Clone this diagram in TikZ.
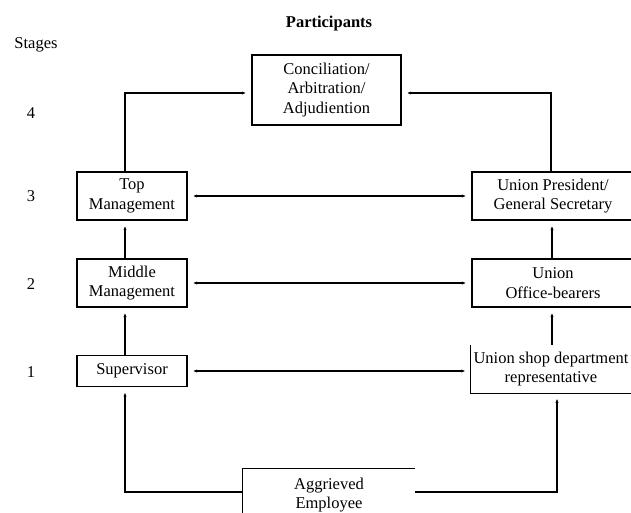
\documentclass[tikz,border=0pt]{standalone}
\usepackage{fontspec}
\setmainfont{Liberation Serif}
\usetikzlibrary{arrows.meta}
\begin{document}
\begin{tikzpicture}[x=1pt,y=-1pt,
  every node/.style={font=\fontsize{16.5}{19.5}\selectfont, inner sep=0pt, align=center},
  box/.style={draw, line width=1.1pt},
  link/.style={line width=1.1pt, -{Stealth[length=3.5pt,width=3pt]}, shorten >=6pt},
  both/.style={line width=1.1pt, {Stealth[length=3.5pt,width=3pt]}-{Stealth[length=3.5pt,width=3pt]}, shorten >=6pt, shorten <=6pt},
  plain/.style={line width=1.1pt}]
\useasboundingbox (0,0) rectangle (631,512);
\clip (0,0) rectangle (631,512);
\fill[white] (0,0) rectangle (631,512);

% headings and stage numbers
\node[font=\bfseries\fontsize{16.5}{19.5}\selectfont] (head) at (329,24) {Participants};
\node (stages) at (36,45) {Stages};
\node (s4) at (31,113) {4};
\node (s3) at (31,196) {3};
\node (s2) at (31,284) {2};
\node (s1) at (31,372) {1};

% participant boxes
\node[box, minimum width=149pt, minimum height=70pt] (conc) at (326.5,90) {Conciliation/\\Arbitration/\\Adjudiention};
\node[box, minimum width=110pt, minimum height=48pt] (top) at (132,196) {Top\\Management};
\node[box, minimum width=110pt, minimum height=48pt] (mid) at (132,283) {Middle\\Management};
\node[box, minimum width=110pt, minimum height=31pt] (sup) at (132,371) {Supervisor};
\node[box, minimum width=162pt, minimum height=48pt] (pres) at (553,196) {Union President/\\General Secretary};
\node[box, minimum width=162pt, minimum height=48pt] (ob) at (553,283) {Union\\Office-bearers};
\node[minimum width=160pt, minimum height=48pt] (shop) at (551,369) {Union shop department\\representative};
\draw[plain] (shop.north west) -- (shop.south west) -- (shop.south east);
\node[minimum width=172pt, minimum height=52pt] (aggr) at (329,495) {Aggrieved\\Employee};
\draw[plain] (aggr.south west) -- (aggr.north west) -- (aggr.north east);

% escalation route on the management side
\draw[link] (aggr.west |- 0,492) -- (125,492) -- (sup.south -| 125,0);
\draw[link] (sup.north -| 125,0) -- (mid.south -| 125,0);
\draw[link] (mid.north -| 125,0) -- (top.south -| 125,0);
\draw[link] (top.north -| 125,0) -- (125,93) -- (conc.west |- 0,93);

% escalation route on the union side
\draw[link] (aggr.east |- 0,492) -- (557,492) -- (shop.south -| 557,0);
\draw[link] (shop.north -| 552,0) -- (ob.south -| 552,0);
\draw[link] (ob.north -| 552,0) -- (pres.south -| 552,0);
\draw[link] (pres.north -| 551,0) -- (551,93) -- (conc.east |- 0,93);

% negotiation between the two sides at each stage
\draw[both] (top.east) -- (pres.west);
\draw[both] (mid.east) -- (ob.west);
\draw[both] (sup.east) -- (sup.east -| shop.west);
\end{tikzpicture}
\end{document}
